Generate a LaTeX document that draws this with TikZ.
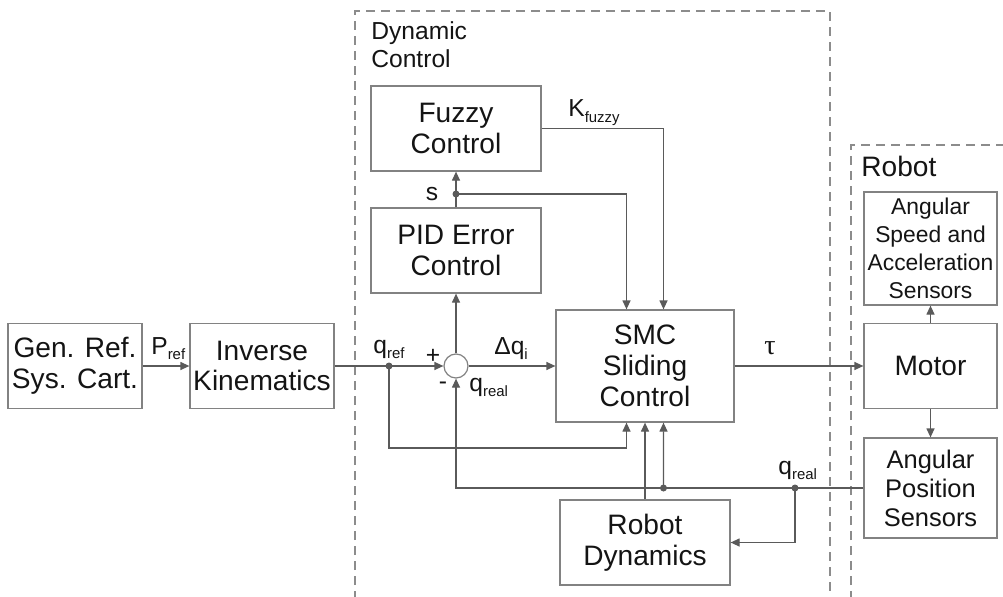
\documentclass[tikz,border=0pt]{standalone}
\usepackage{fontspec}
\setmainfont{Liberation Sans}
\newfontfamily\taufont{Liberation Serif}
\usetikzlibrary{positioning,arrows.meta}
\definecolor{linegray}{RGB}{90,90,90}
\definecolor{boxgray}{RGB}{130,130,130}
\definecolor{dashgray}{RGB}{140,140,140}
\definecolor{textgray}{RGB}{20,20,20}
\newcommand{\sublbl}[1]{\raisebox{-3pt}{\fontsize{8.5}{9}\selectfont #1}}
\tikzset{
  block/.style={draw=boxgray, line width=0.7pt, minimum width=34mm, minimum height=17mm,
    align=center, inner sep=0pt, text=textgray, font=\fontsize{16}{17.5}\selectfont},
  sensor/.style={block, minimum width=26.6mm},
  sig/.style={draw=linegray, line width=0.7pt, -{Triangle[length=1.8mm,width=1.6mm]}},
  lbl/.style={inner sep=0pt, text=textgray, font=\fontsize{14}{16}\selectfont},
  group/.style={draw=dashgray, line width=0.7pt, dash pattern=on 1.8mm off 1.2mm},
}
\begin{document}
\begin{tikzpicture}[x=0.2mm, y=-0.2mm]
\useasboundingbox (0,0) rectangle (1003,597);

% Groups
\draw[group] (355,600) -- (355,11) -- (830,11) -- (830,600);
\draw[group] (851,600) -- (851,145) -- (1005,145);
\node[lbl, anchor=north west, align=left] (dyn) at (371,21) {Dynamic\\Control};
\node[lbl, anchor=base west, font=\fontsize{16}{18}\selectfont] (rob) at (861,176) {Robot};

% Blocks
\node[block, minimum width=26.8mm] (gen) at (75,366) {Gen. Ref.\\Sys. Cart.};
\node[block, minimum width=28.8mm] (ik) at (262,366) {Inverse\\Kinematics};
\node[block] (fuzzy) at (456,128.5) {Fuzzy\\Control};
\node[block] (pid) at (456,250.5) {PID Error\\Control};
\node[circle, draw=boxgray, line width=0.7pt, minimum size=4.8mm, inner sep=0pt] (sum) at (456,366) {};
\node[block, minimum width=35.6mm, minimum height=22.4mm] (smc) at (645,366) {SMC\\Sliding\\Control};
\node[block] (rdyn) at (645,542.5) {Robot\\Dynamics};
\node[sensor, minimum height=22.6mm, font=\fontsize{13}{16}\selectfont] (speed) at (930.5,248.5) {Angular\\Speed and\\Acceleration\\Sensors};
\node[sensor] (motor) at (930.5,366) {Motor};
\node[sensor, minimum height=20mm, font=\fontsize{14.5}{16.5}\selectfont] (apos) at (930.5,488) {Angular\\Position\\Sensors};

% Junctions
\coordinate (qref) at (389,366);
\coordinate (fb) at (389,448);
\coordinate (sdot) at (456,194);
\coordinate (qa) at (663.5,488);
\coordinate (qb) at (795,488);

% Signals
\draw[sig] (gen) -- (ik);
\draw[sig] (ik) -- (sum);
\draw[sig] (sum) -- (smc);
\draw[sig] (smc) -- (motor);
\draw[sig] (sum) -- (pid);
\draw[sig] (pid) -- (fuzzy);
\draw[sig] (sdot) -| ([xshift=-3.7mm]smc.north);
\draw[sig] (fuzzy.east) -| ([xshift=3.7mm]smc.north);
\draw[sig] (qref) -- (fb) -| ([xshift=-3.7mm]smc.south);
\draw[sig] (rdyn) -- (smc);
\draw[sig] (qa) -- ([xshift=3.7mm]smc.south);
\draw[sig] (apos.west) -| (sum.south);
\draw[sig] (qb) |- (rdyn.east);
\draw[sig] (motor) -- (speed);
\draw[sig] (motor) -- (apos);
\foreach \j in {qref,sdot,qa,qb}
  \fill[linegray] (\j) circle (0.7mm);

% Labels
\node[lbl, anchor=base west] (pref) at (151,354) {P\sublbl{ref}};
\node[lbl, anchor=base west] (qreflbl) at (373,353) {q\sublbl{ref}};
\node[lbl] (plus) at (433,356) {+};
\node[lbl] (minus) at (443,386) {-};
\node[lbl, anchor=base west] (qreal1) at (469,391) {q\sublbl{real}};
\node[lbl, anchor=base west] (dq) at (494,354) {Δq\sublbl{i}};
\node[lbl, anchor=base, font=\taufont\fontsize{16}{18}\selectfont] (tau) at (770,354) {τ};
\node[lbl, anchor=base west] (qreal2) at (778,474) {q\sublbl{real}};
\node[lbl, anchor=base west] (kfz) at (568,117) {K\sublbl{fuzzy}};
\node[lbl, anchor=base] (slbl) at (432,200) {s};
\end{tikzpicture}
\end{document}
